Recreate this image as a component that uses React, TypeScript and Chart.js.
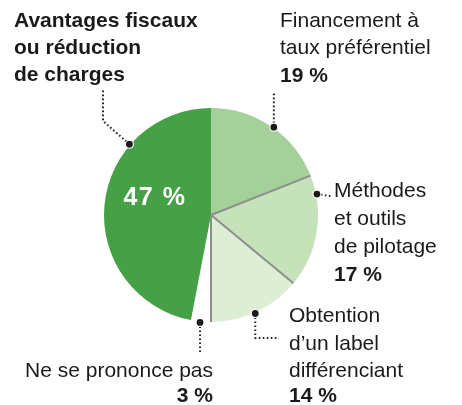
import React, { useEffect, useRef } from "react";
import { Chart, registerables } from "chart.js";

Chart.register(...registerables);

const categories = [
  "Financement à taux préférentiel",
  "Méthodes et outils de pilotage",
  "Obtention d’un label différenciant",
  "Ne se prononce pas",
  "Avantages fiscaux ou réduction de charges",
];
const values = [19, 17, 14, 3, 47];
const valueLabels = ["19 %", "17 %", "14 %", "3 %", "47 %"];
const labelLines = [
  ["Financement à", "taux préférentiel"],
  ["Méthodes", "et outils", "de pilotage"],
  ["Obtention", "d’un label", "différenciant"],
  ["Ne se prononce pas"],
  ["Avantages fiscaux", "ou réduction", "de charges"],
];
const colors = ["#a4d09a", "#c5e2bb", "#ddeed5", "#ffffff", "#46a146"];

const FONT = '"Liberation Sans", Arial, sans-serif';

const annotPlugin = {
  id: "annot",
  afterDatasetsDraw(chart: any) {
    const ctx = chart.ctx as CanvasRenderingContext2D;
    const meta = chart.getDatasetMeta(0);
    const arcs = meta.data as any[];
    const cx = arcs[0].x;
    const cy = arcs[0].y;
    const R = arcs[0].outerRadius;

    // separators
    ctx.save();
    ctx.strokeStyle = "#8e8e8e";
    ctx.lineWidth = 2;
    [1, 2, 3].forEach((i) => {
      const a = arcs[i].startAngle;
      ctx.beginPath();
      ctx.moveTo(cx, cy);
      ctx.lineTo(cx + R * Math.cos(a), cy + R * Math.sin(a));
      ctx.stroke();
    });
    ctx.restore();

    const at = (i: number, f: number, r: number) => {
      const a = arcs[i].startAngle + f * (arcs[i].endAngle - arcs[i].startAngle);
      return [cx + r * Math.cos(a), cy + r * Math.sin(a)];
    };

    const dotFrac = [0.52, 0.17, 0.52, 0.54, 0.71];
    const dots = dotFrac.map((f, i) => at(i, f, R + 1));

    const leaders: number[][][] = [
      [dots[0], [dots[0][0], 92]],
      [dots[1], [331, dots[1][1] + 2]],
      [dots[2], [dots[2][0], 338], [279, 338]],
      [dots[3], [dots[3][0], 352]],
      [dots[4], [103, 121], [103, 89]],
    ];

    ctx.save();
    ctx.strokeStyle = "#222";
    ctx.lineWidth = 2;
    ctx.setLineDash([1.6, 2.4]);
    leaders.forEach((pts) => {
      ctx.beginPath();
      ctx.moveTo(pts[0][0], pts[0][1]);
      for (let k = 1; k < pts.length; k++) ctx.lineTo(pts[k][0], pts[k][1]);
      ctx.stroke();
    });
    ctx.setLineDash([]);
    dots.forEach(([x, y]) => {
      ctx.beginPath();
      ctx.arc(x, y, 4, 0, Math.PI * 2);
      ctx.fillStyle = "#1a1a1a";
      ctx.fill();
      ctx.strokeStyle = "#ffffff";
      ctx.lineWidth = 1.2;
      ctx.stroke();
    });
    ctx.restore();

    // texts
    ctx.save();
    ctx.textBaseline = "alphabetic";
    const txt = (s: string, x: number, y: number, bold: boolean, align: CanvasTextAlign = "left", color = "#1a1a1a", size = 21) => {
      ctx.font = `${bold ? "bold " : ""}${size}px ${FONT}`;
      ctx.fillStyle = color;
      ctx.textAlign = align;
      ctx.fillText(s, x, y);
    };
    // 47 % block (top-left)
    labelLines[4].forEach((s, k) => txt(s, 14, 27 + k * 27, true));
    // 19 %
    labelLines[0].forEach((s, k) => txt(s, 280, 27 + k * 27, false));
    txt(valueLabels[0], 280, 82, true);
    // 17 %
    labelLines[1].forEach((s, k) => txt(s, 334, 197 + k * 28, false));
    txt(valueLabels[1], 334, 281, true);
    // 14 %
    labelLines[2].forEach((s, k) => txt(s, 289, 322 + k * 27.5, false));
    txt(valueLabels[2], 289, 402, true);
    // 3 %
    txt(labelLines[3][0], 213, 377, false, "right");
    txt(valueLabels[3], 213, 402, true, "right");
    // 47 % inside
    const [tx, ty] = at(4, 0.573, R * 0.55);
    (ctx as any).letterSpacing = "1.5px";
    txt(valueLabels[4], tx, ty + 8, true, "center", "#ffffff", 25);
    ctx.restore();
  },
};

export default function App() {
  const ref = useRef<HTMLCanvasElement | null>(null);
  useEffect(() => {
    if (!ref.current) return;
    const chart = new Chart(ref.current, {
      type: "pie",
      data: {
        labels: categories,
        datasets: [
          {
            data: values,
            backgroundColor: colors,
            borderWidth: 0,
          },
        ],
      },
      options: {
        responsive: false,
        animation: false,
        events: [],
        layout: { padding: { left: 104, right: 144, top: 108, bottom: 83 } },
        plugins: {
          legend: { display: false },
          tooltip: { enabled: false },
        },
      },
      plugins: [annotPlugin],
    });
    return () => chart.destroy();
  }, []);
  return (
    <div style={{ position: "fixed", left: 0, top: 0, width: 462, height: 405, background: "#fff" }}>
      <canvas ref={ref} width={462} height={405} />
    </div>
  );
}
